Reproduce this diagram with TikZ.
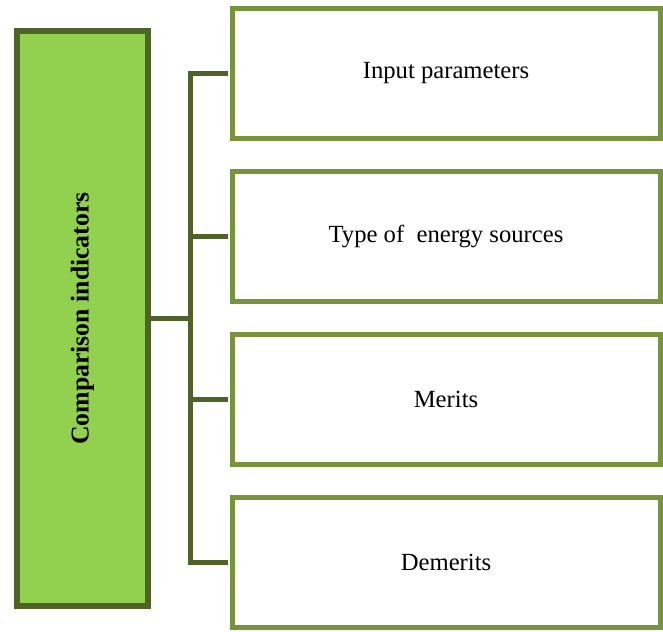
\documentclass[tikz,border=0pt]{standalone}
\usepackage{fontspec}
\setmainfont{Liberation Serif}
\usepackage{graphicx}
\usetikzlibrary{calc}
\definecolor{leafgreen}{HTML}{92D050}
\definecolor{darkolive}{HTML}{4F6228}
\definecolor{olivegreen}{HTML}{77933C}
\tikzset{
	mainbox/.style={draw=darkolive, fill=leafgreen, line width=4.5pt, minimum width=98.25pt, minimum height=431.25pt, inner sep=0pt, font=\fontsize{19.3}{22}\selectfont\bfseries},
	itembox/.style={draw=olivegreen, fill=white, line width=3.75pt, minimum width=321pt, minimum height=97.5pt, inner sep=0pt, font=\fontsize{18.5}{22}\selectfont},
	link/.style={draw=darkolive, line width=3.75pt}
}

\begin{document}
\begin{tikzpicture}[x=0.75pt, y=-0.75pt]
		%%%%% START %%%%%
		\useasboundingbox (0, 0) rectangle (663, 631);
		
		\node[mainbox] (comp) at (82.5, 318.5) {\rotatebox{90}{Comparison indicators}};
		
		\node[itembox] (input) at (446, 73.5) {Input parameters};
		\node[itembox] (energy) at (446, 236.5) {Type of~ energy sources};
		\node[itembox] (merits) at (446, 399.5) {Merits};
		\node[itembox] (demerits) at (446, 562.5) {Demerits};
		
		\coordinate (fork) at (190, 318.5);
		
		\draw[link] (comp.east) -- (fork);
		\draw[link, shorten <=1pt, shorten >=1pt] (input.west) -| (fork) |- (demerits.west);
		\draw[link, shorten >=1pt] (fork |- energy.west) -- (energy.west);
		\draw[link, shorten >=1pt] (fork |- merits.west) -- (merits.west);
		
		%%%%% END %%%%%
\end{tikzpicture}
\end{document}
